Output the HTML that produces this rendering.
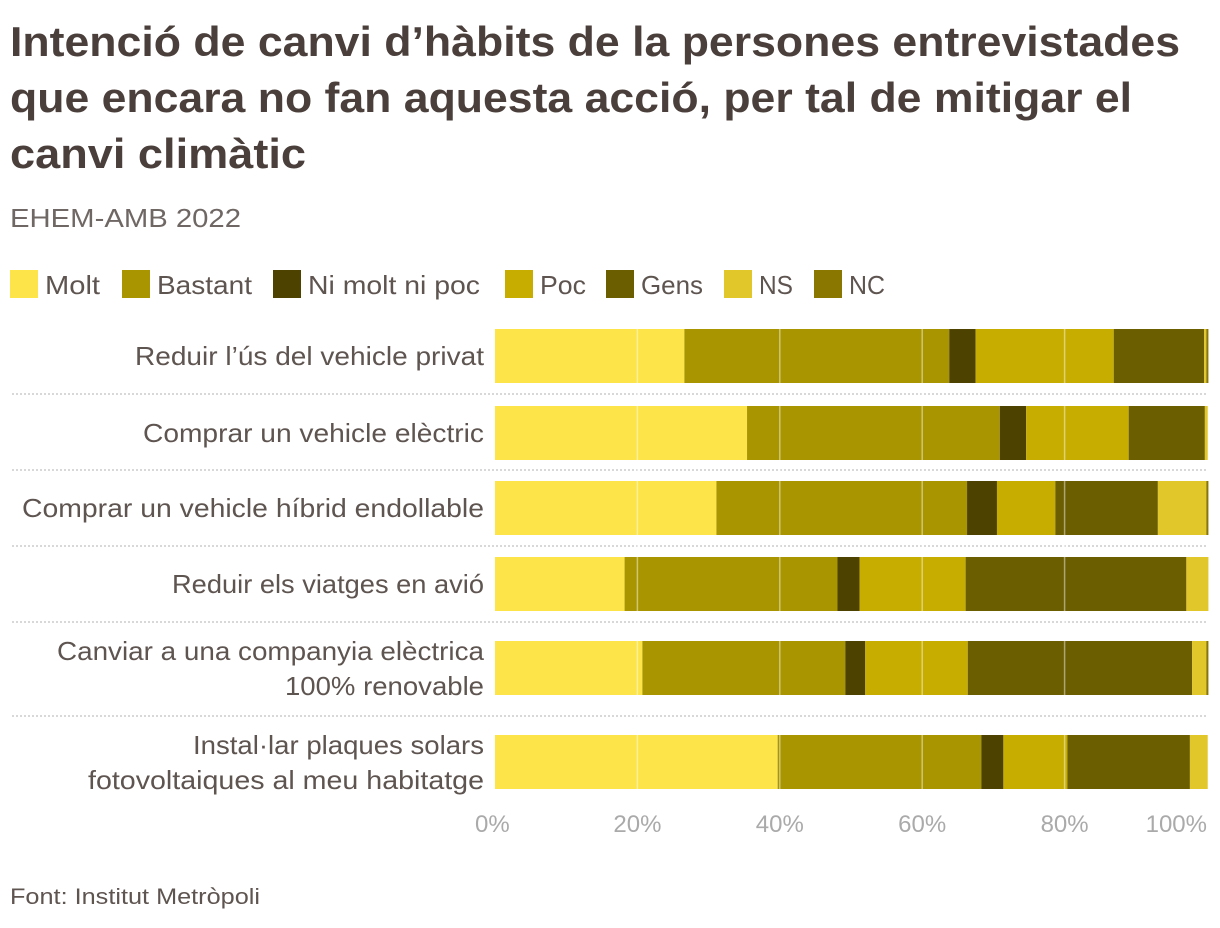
<!DOCTYPE html>
<html><head><meta charset="utf-8"><style>
body{margin:0;background:#fff;}
svg{display:block;font-family:"Liberation Sans",sans-serif;}
</style></head><body>
<svg id="chart" width="1220" height="928" viewBox="0 0 1220 928">
<g fill="#4a3f3b" font-weight="bold" font-size="42">
<text x="10" y="56" textLength="1170" lengthAdjust="spacingAndGlyphs">Intenció de canvi d’hàbits de la persones entrevistades</text>
<text x="10" y="112" textLength="1122" lengthAdjust="spacingAndGlyphs">que encara no fan aquesta acció, per tal de mitigar el</text>
<text x="10" y="168" textLength="296" lengthAdjust="spacingAndGlyphs">canvi climàtic</text>
</g>
<text x="10" y="227" font-size="26" fill="#6f6764" textLength="231" lengthAdjust="spacingAndGlyphs">EHEM-AMB 2022</text>
<g id="legend"></g>
<g id="rows"></g>
<g id="bars"></g>
<g id="grid"></g>
<g id="ticks"></g>
<text x="10" y="904" font-size="22" fill="#5e5450" textLength="250" lengthAdjust="spacingAndGlyphs">Font: Institut Metròpoli</text>
</svg>
<script>
const categories = [["Reduir l’ús del vehicle privat"],["Comprar un vehicle elèctric"],["Comprar un vehicle híbrid endollable"],["Reduir els viatges en avió"],["Canviar a una companyia elèctrica","100% renovable"],["Instal·lar plaques solars","fotovoltaiques al meu habitatge"]];
const seriesNames = ["Molt","Bastant","Ni molt ni poc","Poc","Gens","NS","NC"];
const molt    = [26.6,35.4,31.1,18.2,20.7,39.7];
const bastant = [37.2,35.5,35.2,29.9,28.5,28.6];
const ni      = [3.7,3.7,4.2,3.1,2.8,3.1];
const poc     = [19.4,14.4,8.2,14.9,14.4,9.0];
const gens    = [12.7,10.7,14.4,31.0,31.5,17.2];
const ns      = [0.3,0.4,6.8,3.1,2.0,2.5];
const nc      = [0.3,0.0,0.3,0.0,0.3,0.0];
const tickValues = [0,20,40,60,80,100];
const tickLabels = ["0%","20%","40%","60%","80%","100%"];

const series=[molt,bastant,ni,poc,gens,ns,nc];
const colors=["#fde449","#a89500","#4e4200","#c7ad00","#6b5e00","#e2c72a","#8a7700"];
const NS="http://www.w3.org/2000/svg";
const x0=495,x1=1207;
const xScale=v=>x0+(x1-x0)*v/100;
const barTops=[329,406,481,557,641,735], barH=54;
const yScale=i=>barTops[i];
const labelW=[[349],[341],[462],[312],[427,199],[291,396]];
function mk(tag,attrs,parent){const e=document.createElementNS(NS,tag);for(const k in attrs)e.setAttribute(k,attrs[k]);parent.appendChild(e);return e;}

// legend
const legend=document.getElementById('legend');
const legX=[10,122,273,505,606,724,814];
const lw=[55,95,172,46,62,34,36];
seriesNames.forEach((n,i)=>{
  const r=mk('rect',{x:legX[i],y:270,width:28,height:28,fill:colors[i]},legend);
  
  
  const t=mk('text',{x:legX[i]+35,y:294,'font-size':26,fill:'#5e5450',textLength:lw[i],lengthAdjust:'spacingAndGlyphs'},legend);
  t.textContent=n;
  
  
});

// rows labels + separators
const rows=document.getElementById('rows');
const seps=[394,470,546,622,716];
seps.forEach((y,i)=>{
  const l=mk('line',{x1:12,x2:1207,y1:y,y2:y,stroke:'#ccc','stroke-width':1.5,'stroke-dasharray':'2,2'},rows);
  
  
});
categories.forEach((lines,i)=>{
  const cy=yScale(i)+barH/2;
  lines.forEach((ln,j)=>{
    const y= lines.length==1? cy+9 : cy-8+j*35;
    const t=mk('text',{x:484,y:y,'font-size':26,fill:'#5e5450','text-anchor':'end'},rows);
    t.textContent=ln;
    t.setAttribute('textLength',labelW[i][j]);
    t.setAttribute('lengthAdjust','spacingAndGlyphs');
    
    
  });
});
// bars
const bars=document.getElementById('bars');
categories.forEach((c,i)=>{
  let acc=0;
  series.forEach((s,k)=>{
    const v=s[i]; if(v<=0)return;
    const r=mk('rect',{x:xScale(acc),y:yScale(i),width:xScale(acc+v)-xScale(acc),height:barH,fill:colors[k]},bars);
    
    
    acc+=v;
  });
});
// grid & ticks
const grid=document.getElementById('grid'),ticks=document.getElementById('ticks');
tickValues.forEach((v,i)=>{
  if(v>0&&v<100){
    const l=mk('line',{x1:xScale(v),x2:xScale(v),y1:325,y2:793,stroke:'rgba(255,255,255,0.45)','stroke-width':1.5},grid);
    
    
  }
  const t=mk('text',{x:v==100?x1:xScale(v),y:832,'font-size':24,fill:'#aaa','text-anchor':v==100?'end':(v==0?'start':'middle')},ticks);
  if(v==0)t.setAttribute('x',x0-20);
  t.textContent=tickLabels[i];
  
  
});
</script>
</body></html>
